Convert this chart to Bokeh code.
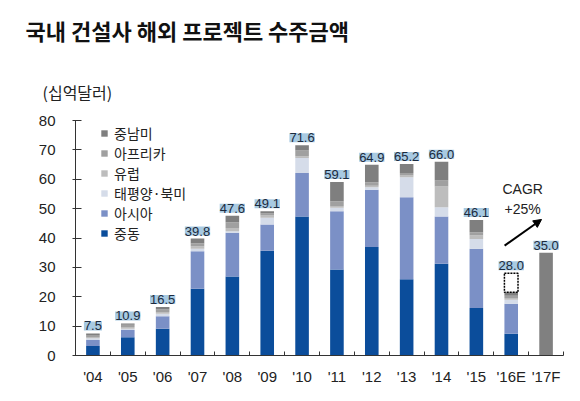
from bokeh.plotting import figure
from bokeh.models import (ColumnDataSource, Range1d, FixedTicker, Legend, LegendItem,
                          LabelSet, Label, Arrow, NormalHead)
from bokeh.layouts import column
from bokeh.embed import file_html
from bokeh.resources import INLINE
from bokeh.core.properties import value

# ---------------- data ----------------
years = ["'04", "'05", "'06", "'07", "'08", "'09", "'10", "'11", "'12", "'13", "'14", "'15", "'16E", "'17F"]
middle_east = [3.2, 6.2, 9.1, 22.7, 26.9, 35.7, 47.3, 29.3, 36.9, 26.0, 31.2, 16.2, 7.4, 0]
asia        = [2.1, 2.5, 4.3, 12.8, 14.9, 8.9, 14.8, 19.8, 19.5, 27.9, 16.1, 20.1, 10.2, 0]
pacific_na  = [0.6, 0.4, 0.8, 0.8, 0.5, 2.3, 5.1, 1.2, 0.9, 6.8, 3.2, 3.4, 1.4, 0]
europe      = [0.4, 0.6, 0.6, 0.9, 1.1, 0.8, 0.6, 0.6, 0.5, 0.6, 7.0, 1.2, 0.6, 0]
africa      = [0.7, 0.8, 0.9, 1.0, 2.0, 0.6, 2.0, 1.6, 1.2, 0.8, 2.1, 1.1, 0.7, 0]
latam       = [0.5, 0.4, 0.8, 1.6, 2.2, 0.8, 1.8, 6.6, 5.9, 3.1, 6.4, 4.1, 1.2, 0]
forecast    = [0, 0, 0, 0, 0, 0, 0, 0, 0, 0, 0, 0, 0, 35.0]
totals      = [7.5, 10.9, 16.5, 39.8, 47.6, 49.1, 71.6, 59.1, 64.9, 65.2, 66.0, 46.1, 28.0, 35.0]
series_names = ["중동", "아시아", "태평양·북미", "유럽", "아프리카", "중남미"]
series_colors = ["#0b4d9b", "#7b90c6", "#d5dce9", "#bdbdbd", "#a0a0a0", "#7f7f7f"]
y_ticks = [0, 10, 20, 30, 40, 50, 60, 70, 80]
title_text = "국내 건설사 해외 프로젝트 수주금액"
unit_text = "(십억달러)"
cagr_text = ["CAGR", "+25%"]
estimate_index = 12  # '16E: dashed (unconfirmed) part

xs = list(range(len(years)))
series = [middle_east, asia, pacific_na, europe, africa, latam]

KFONT = "Noto Sans CJK KR"
NFONT = "Liberation Sans"
W = 580

# ---------------- header: title with a grey rule below (drawn as an x axis line) ----------------
T1H = 54
t1 = figure(width=W, height=T1H, x_range=Range1d(0, W - 16), y_range=Range1d(0, T1H),
            y_axis_type=None, toolbar_location=None, output_backend="svg",
            min_border_left=16, min_border_right=0, min_border_top=0, min_border_bottom=0,
            outline_line_color=None)
t1.frame_align = False
t1.grid.visible = False
rax = t1.xaxis[0]
rax.ticker = FixedTicker(ticks=[])
rax.major_tick_in = 0
rax.major_tick_out = 0
rax.minor_tick_in = 0
rax.minor_tick_out = 0
rax.major_label_standoff = 0
rax.major_label_text_font_size = "1px"
rax.axis_line_color = "#bdbdbd"
rax.axis_line_width = 1
t1.add_layout(Label(x=9, y=T1H - 29, text=title_text, text_font=KFONT, text_font_size="22px",
                    text_font_style="bold", text_color="#111111", text_baseline="middle",
                    text_align="left"))

# ---------------- unit strip ----------------
T2H = 50
t2 = figure(width=W, height=T2H, x_range=Range1d(0, W - 16), y_range=Range1d(0, T2H),
            x_axis_type=None, y_axis_type=None, toolbar_location=None, output_backend="svg",
            min_border_left=16, min_border_right=0, min_border_top=0, min_border_bottom=0,
            outline_line_color=None)
t2.frame_align = False
t2.grid.visible = False
t2.add_layout(Label(x=26, y=T2H - 37, text=unit_text, text_font=KFONT, text_font_size="16px",
                    text_color="#222222", text_baseline="middle", text_align="left"))

# ---------------- main chart ----------------
HH = T1H + T2H
p = figure(width=W, height=401 - HH, x_range=Range1d(-0.5, 13.5), y_range=Range1d(0, 80),
           toolbar_location=None, output_backend="svg",
           min_border_left=75, min_border_right=17, min_border_top=120 - HH,
           min_border_bottom=46, outline_line_color=None)
p.frame_align = False
p.grid.visible = False

data = {"x": xs}
for n, s in zip(series_names, series):
    data[n] = s
data["forecast"] = forecast
src = ColumnDataSource(data)

rs = p.vbar_stack(series_names, x="x", width=0.39, color=series_colors, source=src,
                  line_color=None)
p.vbar(x="x", top="forecast", width=0.39, color="#808080", line_color=None, source=src)

# dashed box for the estimated (not yet confirmed) portion of '16E
stack_sum = sum(s[estimate_index] for s in series)
est_src = ColumnDataSource(dict(x=[xs[estimate_index]], bottom=[stack_sum],
                                top=[totals[estimate_index]]))
p.vbar(x="x", bottom="bottom", top="top", width=0.39, source=est_src,
       fill_color="white", line_color="black", line_dash="2 1", line_width=1.5)

# value labels
lab_src = ColumnDataSource(dict(x=xs, y=totals, t=["%.1f" % v for v in totals]))
p.add_layout(LabelSet(x="x", y="y", text="t", source=lab_src, text_align="center",
                      text_baseline="bottom", y_offset=3, text_font=value(NFONT),
                      text_font_size="13px", text_color="#1b2a3e",
                      background_fill_color="#a8cae2"))

# legend (reverse order)
items = [LegendItem(label=n, renderers=[r]) for n, r in zip(series_names, rs)][::-1]
leg = Legend(items=items, location=(25, 112), padding=0, margin=0, spacing=0,
             label_height=20, glyph_width=8, glyph_height=8, label_standoff=6,
             label_text_font=KFONT, label_text_font_size="14px", label_text_color="#222222",
             background_fill_alpha=0, border_line_color=None)
p.add_layout(leg)

# axes
xa = p.xaxis[0]
xa.ticker = FixedTicker(ticks=xs, minor_ticks=[i - 0.5 for i in range(len(years) + 1)])
xa.major_label_overrides = {i: y for i, y in zip(xs, years)}
xa.major_tick_in = 0
xa.major_tick_out = 0
xa.minor_tick_in = 4
xa.minor_tick_out = 0
xa.minor_tick_line_color = "#333333"
xa.axis_line_color = "#333333"
xa.major_label_standoff = 12
xa.major_label_text_font = NFONT
xa.major_label_text_font_size = "15px"
xa.major_label_text_color = "#222222"

ya = p.yaxis[0]
ya.ticker = FixedTicker(ticks=y_ticks)
ya.major_tick_in = 6
ya.major_tick_out = 3
ya.minor_tick_line_color = None
ya.axis_line_color = "#333333"
ya.major_tick_line_color = "#333333"
ya.major_label_standoff = 17
ya.major_label_text_font = NFONT
ya.major_label_text_font_size = "15px"
ya.major_label_text_color = "#222222"

# CAGR annotation
p.add_layout(Label(x=12.33, y=56.7, text=cagr_text[0], text_font=NFONT, text_font_size="14px",
                   text_color="#222222", text_baseline="middle", text_align="center"))
p.add_layout(Label(x=12.33, y=50.0, text=cagr_text[1], text_font=NFONT, text_font_size="14px",
                   text_color="#222222", text_baseline="middle", text_align="center"))
p.add_layout(Arrow(x_start=11.81, y_start=37.4, x_end=12.87, y_end=46.3, line_width=2,
                   line_color="black",
                   end=NormalHead(size=8, fill_color="black", line_color="black")))

layout = column(t1, t2, p)
open("out.html", "w").write(file_html(layout, INLINE))
